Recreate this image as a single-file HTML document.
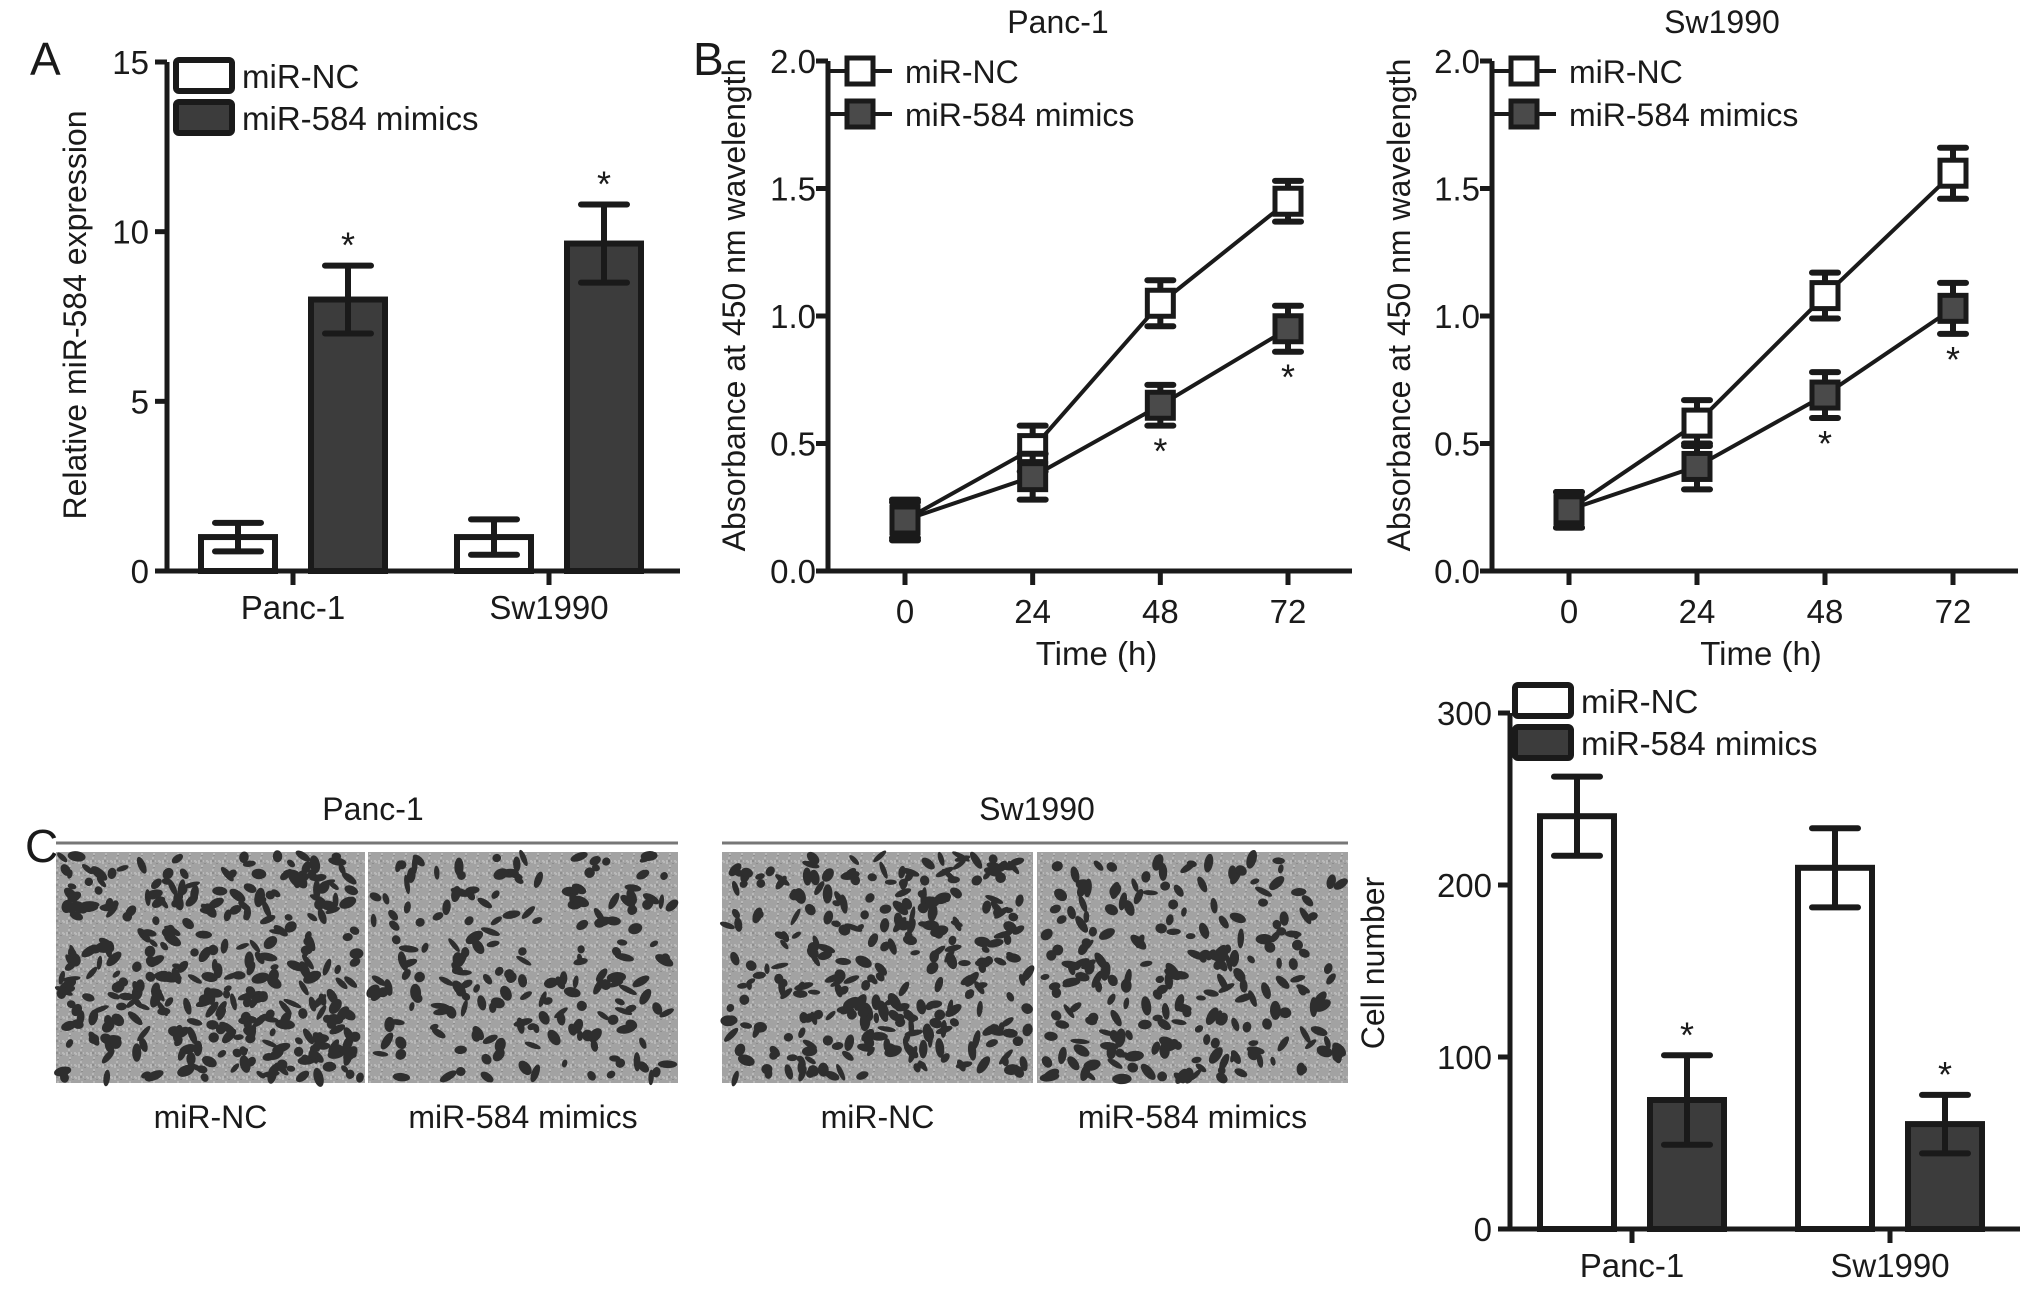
<!DOCTYPE html>
<html><head><meta charset="utf-8"><style>
html,body{margin:0;padding:0;background:#fff}
svg{display:block}
text{font-family:"Liberation Sans",Arial,sans-serif;fill:#1a1a1a}
.n{font-family:"Liberation Sans Narrow","Liberation Sans",sans-serif}
</style></head><body>
<svg id="fig" width="2032" height="1289" viewBox="0 0 2032 1289" xmlns="http://www.w3.org/2000/svg"></svg>
<script>
// ---- Panel A data ----
const aCategories = ["Panc-1", "Sw1990"];
const aNC = [1.0, 1.0];
const aNCErr = [0.42, 0.52];
const aMimic = [8.0, 9.65];
const aMimicErr = [1.0, 1.15];
const aTicks = [0, 5, 10, 15];
// ---- Panel B data ----
const bTimes = [0, 24, 48, 72];
const bTimeTicks = ["0", "24", "48", "72"];
const bTicks = [0.0, 0.5, 1.0, 1.5, 2.0];
const bPancNC = [0.20, 0.48, 1.05, 1.45];
const bPancNCErr = [0.07, 0.09, 0.09, 0.08];
const bPancMimic = [0.20, 0.37, 0.65, 0.95];
const bPancMimicErr = [0.08, 0.09, 0.08, 0.09];
const bSwNC = [0.24, 0.58, 1.08, 1.56];
const bSwNCErr = [0.07, 0.09, 0.09, 0.10];
const bSwMimic = [0.24, 0.41, 0.69, 1.03];
const bSwMimicErr = [0.07, 0.09, 0.09, 0.10];
const bStars = [false, false, true, true];
// ---- Panel C data ----
const cCategories = ["Panc-1", "Sw1990"];
const cNC = [240, 210];
const cNCErr = [23, 23];
const cMimic = [75, 61];
const cMimicErr = [26, 17];
const cTicks = [0, 100, 200, 300];

const NS = "http://www.w3.org/2000/svg";
const svg = document.getElementById("fig");
function el(tag, attrs, parent, txt) {
  const e = document.createElementNS(NS, tag);
  for (const k in attrs) e.setAttribute(k, attrs[k]);
  if (txt !== undefined) e.textContent = txt;
  (parent || svg).appendChild(e);
  return e;
}
function group(name) {
  const g = el("g", {});
  
  
  return g;
}
function lin(d0, d1, r0, r1) { return v => r0 + (v - d0) * (r1 - r0) / (d1 - d0); }
const INK = "#1a1a1a", DARK = "#3c3c3c";

function errBar(g, x, y0, y1, cap, name) {
  const e = el("path", {d:`M${x-cap} ${y0}H${x+cap}M${x} ${y0}V${y1}M${x-cap} ${y1}H${x+cap}`, stroke:INK, "stroke-width":6, fill:"none", "stroke-linecap":"round"}, g);
  
  
}
function star(g, x, y, name) {
  const t = el("text", {x:x, y:y+4, "text-anchor":"middle", "font-size":36, fill:"#777"}, g, "*");
  
  
}

// ---------- Bar chart helper ----------
function barChart(o) {
  const g = group(o.name);
  const y = lin(o.ticks[0], o.ticks[o.ticks.length-1], o.y0, o.yTop);
  el("line", {x1:o.ax, y1:o.yTop, x2:o.ax, y2:o.y0, stroke:INK, "stroke-width":5}, g);
  el("line", {x1:o.ax-12, y1:o.y0, x2:o.xEnd, y2:o.y0, stroke:INK, "stroke-width":5}, g);
  o.ticks.forEach(t => {
    el("line", {x1:o.ax-12, y1:y(t), x2:o.ax, y2:y(t), stroke:INK, "stroke-width":5}, g);
    const tl = el("text", {x:o.ax-18, y:y(t)+12, "text-anchor":"end", "font-size":33}, g, String(t));
    
    
  });
  o.cats.forEach((c, i) => {
    const cx = o.cx[i];
    el("line", {x1:cx, y1:o.y0, x2:cx, y2:o.y0+14, stroke:INK, "stroke-width":5}, g);
    const cl = el("text", {x:cx, y:o.y0+48, "text-anchor":"middle", "font-size":33}, g, c);
    
    
    const series = [[o.nc, o.ncErr, "#fff", -o.off], [o.mim, o.mimErr, DARK, o.off]];
    series.forEach((s, k) => {
      const bx = cx + s[3] - o.bw/2, top = y(s[0][i]);
      const r = el("rect", {x:bx, y:top, width:o.bw, height:o.y0-top, fill:s[2], stroke:INK, "stroke-width":6}, g);
      
      
      errBar(g, cx+s[3], y(s[0][i]+s[1][i]), y(s[0][i]-s[1][i]), 23, 'error-bar');
      if (k === 1) star(g, cx+s[3], y(s[0][i]+s[1][i])-12, 'significance-star');
    });
  });
  [["miR-NC", "#fff"], ["miR-584 mimics", DARK]].forEach((l, k) => {
    const ly = o.legY + k*42;
    const lg = el("g", {}, g);
    
    
    el("rect", {x:o.legX, y:ly, width:56, height:31, rx:3, fill:l[1], stroke:INK, "stroke-width":6}, lg);
    el("text", {x:o.legX+66, y:ly+28, "font-size":33}, lg, l[0]);
  });
  const yl = el("text", {x:o.ylX, y:o.ylY, "text-anchor":"middle", "font-size":32, transform:`rotate(-90 ${o.ylX} ${o.ylY})`}, g, o.ylabel);
  
  
}

barChart({name:"panel-a-chart", cats:aCategories, nc:aNC, ncErr:aNCErr, mim:aMimic, mimErr:aMimicErr, ticks:aTicks,
  ax:167, y0:571, yTop:62, xEnd:680, cx:[293,549], off:55, bw:74, legX:176, legY:60,
  ylX:86, ylY:315, ylabel:"Relative miR-584 expression"});
barChart({name:"panel-c-chart", cats:cCategories, nc:cNC, ncErr:cNCErr, mim:cMimic, mimErr:cMimicErr, ticks:cTicks,
  ax:1510, y0:1229, yTop:713, xEnd:2020, cx:[1632,1890], off:55, bw:74, legX:1515, legY:685,
  ylX:1384, ylY:963, ylabel:"Cell number"});

// ---------- Line chart helper ----------
function lineChart(o) {
  const g = group(o.name);
  const y = lin(0, 2, 571, 61);
  const x = lin(0, 72, o.x0, o.x72);
  el("line", {x1:o.ax, y1:61, x2:o.ax, y2:571, stroke:INK, "stroke-width":5}, g);
  el("line", {x1:o.ax, y1:571, x2:o.xEnd, y2:571, stroke:INK, "stroke-width":5}, g);
  bTicks.forEach(t => {
    el("line", {x1:o.ax-12, y1:y(t), x2:o.ax, y2:y(t), stroke:INK, "stroke-width":5}, g);
    const tl = el("text", {class:"n", x:o.ax-12, y:y(t)+12, "text-anchor":"end", "font-size":33}, g, t.toFixed(1));
    
    
  });
  bTimes.forEach((t, i) => {
    el("line", {x1:x(t), y1:571, x2:x(t), y2:585, stroke:INK, "stroke-width":5}, g);
    const tl = el("text", {class:"n", x:x(t), y:623, "text-anchor":"middle", "font-size":33}, g, bTimeTicks[i]);
    
    
  });
  const series = [[o.nc, o.ncErr, "#fff", "nc"], [o.mim, o.mimErr, "#4a4a4a", "mimics"]];
  series.forEach(s => {
    const pts = bTimes.map((t, i) => `${x(t)},${y(s[0][i])}`).join(" ");
    const pl = el("polyline", {points:pts, fill:"none", stroke:INK, "stroke-width":4}, g);
    
    
  });
  series.forEach(s => {
    bTimes.forEach((t, i) => {
      errBar(g, x(t), y(s[0][i]+s[1][i]), y(s[0][i]-s[1][i]), 13, 'error-bar');
      const m = el("rect", {x:x(t)-13, y:y(s[0][i])-13, width:26, height:26, fill:s[2], stroke:INK, "stroke-width":5}, g);
      
      
    });
  });
  bTimes.forEach((t, i) => { if (bStars[i]) star(g, x(t), y(o.mim[i]-o.mimErr[i])+34, 'significance-star'); });
  [["miR-NC", "#fff"], ["miR-584 mimics", "#4a4a4a"]].forEach((l, k) => {
    const ly = 71 + k*43;
    const lg = el("g", {}, g);
    
    
    el("line", {x1:o.ax, y1:ly, x2:o.ax+64, y2:ly, stroke:INK, "stroke-width":4}, lg);
    el("rect", {x:o.ax+19, y:ly-13, width:26, height:26, fill:l[1], stroke:INK, "stroke-width":5}, lg);
    el("text", {x:o.ax+77, y:ly+12, "font-size":32}, lg, l[0]);
  });
  const tt = el("text", {class:"n", x:o.titleX, y:33, "text-anchor":"middle", "font-size":32}, g, o.title);
  
  
  const xl = el("text", {class:"n", x:(o.x0+o.x72)/2, y:665, "text-anchor":"middle", "font-size":33}, g, "Time (h)");
  
  
  const yl = el("text", {x:o.ylX, y:305, "text-anchor":"middle", "font-size":32, transform:`rotate(-90 ${o.ylX} 305)`}, g, "Absorbance at 450 nm wavelength");
  
  
}
lineChart({name:"panel-b-panc1", nc:bPancNC, ncErr:bPancNCErr, mim:bPancMimic, mimErr:bPancMimicErr,
  ax:828, x0:905, x72:1288, xEnd:1352, titleX:1058, title:"Panc-1", ylX:745});
lineChart({name:"panel-b-sw1990", nc:bSwNC, ncErr:bSwNCErr, mim:bSwMimic, mimErr:bSwMimicErr,
  ax:1492, x0:1569, x72:1953, xEnd:2018, titleX:1722, title:"Sw1990", ylX:1410});

// ---------- Panel letters ----------
[["A",30,75],["B",693,75],["C",25,862]].forEach(p => {
  const t = el("text", {x:p[1], y:p[2], "font-size":46}, svg, p[0]);
  
  
});

// ---------- Panel C micrographs (texture) ----------
let seed = 7;
function rnd() { seed = (seed * 16807) % 2147483647; return seed / 2147483647; }
const gc = group("panel-c-micrographs");
const defs = el("defs", {});
const pat = el("pattern", {id:"speck", width:12, height:12, patternUnits:"userSpaceOnUse"}, defs);
el("rect", {width:12, height:12, fill:"#a2a2a2"}, pat);
for (let i = 0; i < 10; i++) el("rect", {x:Math.floor(rnd()*12), y:Math.floor(rnd()*12), width:2, height:2, fill: rnd() > 0.5 ? "#b8b8b8" : "#8e8e8e"}, pat);
[["Panc-1", 373, 56, 678], ["Sw1990", 1037, 722, 1348]].forEach(b => {
  el("text", {x:b[1], y:820, "text-anchor":"middle", "font-size":32}, gc, b[0]);
  el("line", {x1:b[2], y1:843, x2:b[3], y2:843, stroke:"#777", "stroke-width":3}, gc);
});
const imgs = [[56,365,350,"miR-NC"],[368,678,200,"miR-584 mimics"],[722,1033,300,"miR-NC"],[1037,1348,230,"miR-584 mimics"]];
imgs.forEach((im, k) => {
  const ig = el("g", {}, gc);
  
  
  const w = im[1]-im[0];
  el("rect", {x:im[0], y:852, width:w, height:231, fill:"url(#speck)"}, ig);
  for (let i = 0; i < im[2]; i++) {
    const cx = im[0] + 5 + rnd()*(w-10), cy = 856 + rnd()*223;
    el("ellipse", {cx:cx, cy:cy, rx:4+rnd()*6, ry:2.5+rnd()*3, fill:"#2e2e2e", transform:`rotate(${rnd()*180} ${cx} ${cy})`}, ig);
  }
  const lt = el("text", {x:(im[0]+im[1])/2, y:1128, "text-anchor":"middle", "font-size":32}, gc, im[3]);
  
  
});
</script>
</body></html>
